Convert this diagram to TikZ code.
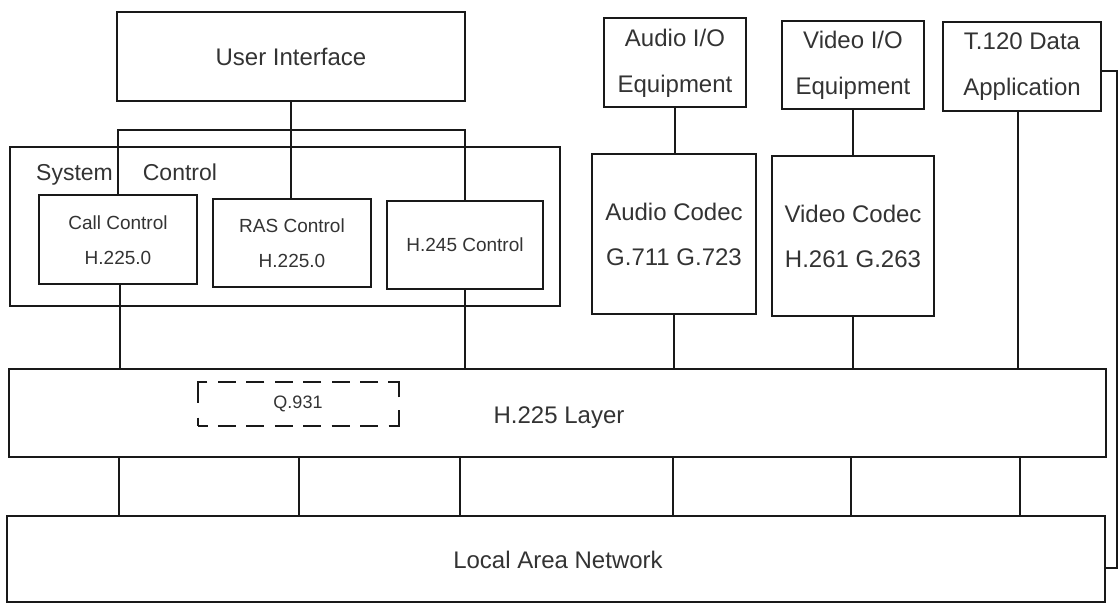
\documentclass[tikz,border=0pt]{standalone}
\usepackage{fontspec}
\setmainfont{Liberation Sans}
\begin{document}
\begin{tikzpicture}[x=1pt,y=-1pt,
  line/.style={line width=2pt, black!90},
  blk/.style={draw=black!90, line width=2pt, inner sep=0pt, align=center, text=black!80},
  big/.style={font=\fontsize{24}{46}\selectfont},
  mid/.style={font=\fontsize{24}{45}\selectfont},
  small/.style={font=\fontsize{19}{35}\selectfont},
  % dashed frame whose corners stay solid, like brackets
  dashedblk/.style={draw=black!90, line width=2pt, inner sep=0pt, text=black!80,
    dash pattern=on 18pt off 10.43pt on 18pt off 10.43pt on 18pt off 10.43pt
      on 18pt off 10.43pt on 18pt off 10.43pt on 18pt off 10.43pt on 18pt off 10.43pt
      on 25pt off 13pt on 25pt off 10.43pt
      on 18pt off 10.43pt on 18pt off 10.43pt on 18pt off 10.43pt
      on 18pt off 10.43pt on 18pt off 10.43pt on 18pt off 10.43pt
      on 30pt off 15pt,
    dash phase=8pt},
]
\useasboundingbox (0,0) rectangle (1119,609);

% upper application blocks
\node[blk,big,minimum width=348pt,minimum height=89pt] (ui) at (291,57) {User Interface};
\node[blk,big,minimum width=142pt,minimum height=89pt] (aio) at (675,63) {Audio I/O\\Equipment};
\node[blk,big,minimum width=142pt,minimum height=88pt] (vio) at (853,65) {Video I/O\\Equipment};
\node[blk,big,minimum width=158pt,minimum height=89pt] (t120) at (1022,67) {T.120 Data\\Application};

% system control frame and its members
\node[blk,minimum width=550pt,minimum height=159pt] (sys) at (285,227) {};
\node[anchor=base west,inner sep=0pt,text=black!80,font=\fontsize{23}{28}\selectfont] (sysl) at (36,181) {System\hskip 30pt Control};
\node[blk,small,minimum width=158pt,minimum height=89pt] (cc) at (118,240) {Call Control\\H.225.0};
\node[blk,small,minimum width=158pt,minimum height=88pt] (ras) at (292,243) {RAS Control\\H.225.0};
\node[blk,small,minimum width=156pt,minimum height=88pt] (h245) at (465,245) {H.245 Control};

% codecs
\node[blk,mid,minimum width=164pt,minimum height=160pt] (acod) at (674,234) {Audio Codec\\G.711 G.723};
\node[blk,mid,minimum width=162pt,minimum height=160pt] (vcod) at (853,236) {Video Codec\\H.261 G.263};

% transport layers
\node[blk,minimum width=1097pt,minimum height=87pt] (h225) at (557,413) {};
\node[text=black!80,font=\fontsize{24}{28}\selectfont,inner sep=0pt] (h225l) at (559,418) {H.225 Layer};
\node[dashedblk,font=\fontsize{18}{22}\selectfont,minimum width=201pt,minimum height=43pt] (q931) at (298,404) {Q.931};
\node[blk,minimum width=1098pt,minimum height=86pt] (lan) at (556,559) {};
\node[text=black!80,font=\fontsize{24}{28}\selectfont,inner sep=0pt] (lanl) at (558,560) {Local Area Network};

% user interface bus to the control blocks
\coordinate (bus) at (0,130);
\draw[line] (cc.north) -- (cc.north |- bus) -- (h245.north |- bus) -- (h245.north);
\draw[line] (ui.south) -- (ui.south |- ras.north);

% media paths
\draw[line] (aio.south) -- (aio.south |- acod.north);
\draw[line] (vio.south) -- (vio.south |- vcod.north);

% links into the H.225 layer
\draw[line] ([xshift=2pt]cc.south) -- ([xshift=2pt]cc.south |- h225.north);
\draw[line] (h245.south) -- (h245.south |- h225.north);
\draw[line] (acod.south) -- (acod.south |- h225.north);
\draw[line] (vcod.south) -- (vcod.south |- h225.north);
\draw[line] ([xshift=-4pt]t120.south) -- ([xshift=-4pt]t120.south |- h225.north);

% links from the H.225 layer down to the LAN
\foreach \x in {119,299,460,673,851,1020}
  \draw[line] (h225.south -| \x,0) -- (lan.north -| \x,0);

% T.120 data goes straight to the LAN
\coordinate (fb) at (1117,0);
\draw[line] ([yshift=-4pt]t120.east) -- ([yshift=-4pt]t120.east -| fb) |- ([yshift=-9pt]lan.east);
\end{tikzpicture}
\end{document}
